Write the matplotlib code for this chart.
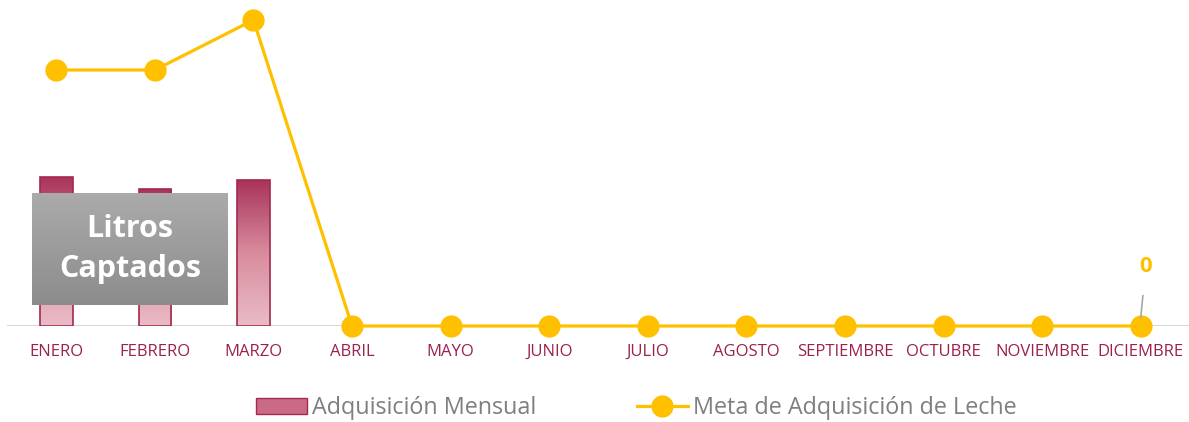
import numpy as np
import matplotlib.pyplot as plt
from matplotlib.patches import Rectangle
from matplotlib.colors import LinearSegmentedColormap
from matplotlib.lines import Line2D

meses = ['ENERO', 'FEBRERO', 'MARZO', 'ABRIL', 'MAYO', 'JUNIO', 'JULIO',
         'AGOSTO', 'SEPTIEMBRE', 'OCTUBRE', 'NOVIEMBRE', 'DICIEMBRE']
adquisicion = [149, 137, 146]
meta = [256, 256, 306, 0, 0, 0, 0, 0, 0, 0, 0, 0]

plt.rcParams['font.family'] = ['Open Sans', 'DejaVu Sans']

fig = plt.figure(figsize=(11.89, 4.22), dpi=100)
ax = fig.add_axes([7 / 1189, 1 - 326 / 422, 1183 / 1189, 326 / 422])
x = np.arange(len(meses))

# barras con degradado
cmap_bar = LinearSegmentedColormap.from_list('bar', ['#E9BCC6', '#D98C9E', '#A9345A'])
grad = np.linspace(0, 1, 256).reshape(-1, 1)
for i, v in enumerate(adquisicion):
    rect = Rectangle((i - 0.165, 0), 0.33, v, facecolor='none',
                     edgecolor='#A3294F', linewidth=1.2, zorder=3)
    ax.add_patch(rect)
    im = ax.imshow(grad, cmap=cmap_bar, aspect='auto', origin='lower',
                   extent=(i - 0.165, i + 0.165, 0, v), zorder=2)
    im.set_clip_path(rect)

# linea de meta
ax.plot(x, meta, color='#FFC000', linewidth=2.3, marker='o', markersize=15,
        zorder=5, clip_on=False)

# eje
ax.axhline(0, color='#D9D9D9', linewidth=1.5, zorder=1)
ax.set_xlim(-0.5, 11.5)
ax.set_ylim(0, 326)
ax.set_xticks(x)
ax.set_xticklabels(meses, color='#9B2150', fontsize=12)
ax.tick_params(axis='x', length=0, pad=13)
ax.set_yticks([])
for s in ax.spines.values():
    s.set_visible(False)

# etiqueta de dato
ax.annotate('0', xy=(11, 8), xytext=(11.05, 59), ha='center', va='center',
            fontsize=16, fontweight='bold', color='#FFC000',
            arrowprops=dict(arrowstyle='-', color='#A6A6A6', lw=1.2,
                            shrinkA=11, shrinkB=0), zorder=6)

# cuadro de titulo
cmap_box = LinearSegmentedColormap.from_list('box', ['#8C8C8C', '#ABABAB'])
bax = fig.add_axes([32 / 1189, 1 - 305 / 422, 196 / 1189, 112 / 422])
bax.imshow(grad, cmap=cmap_box, aspect='auto', origin='lower', extent=(0, 1, 0, 1))
bax.set_xlim(0, 1)
bax.set_ylim(0, 1)
bax.axis('off')
bax.text(0.5, 0.5, 'Litros\nCaptados', ha='center', va='center', color='white',
         fontsize=22, fontweight='bold', linespacing=1.45)

# leyenda
handles = [Rectangle((0, 0), 1, 1, facecolor='#CB6A85', edgecolor='#A3294F'),
           Line2D([], [], color='#FFC000', linewidth=2.3, marker='o', markersize=15)]
fig.legend(handles, ['Adquisición Mensual', 'Meta de Adquisición de Leche'],
           loc='center', bbox_to_anchor=(636 / 1189, 1 - 408 / 422), ncol=2,
           frameon=False, fontsize=16.8, labelcolor='#7F7F7F', columnspacing=4.3,
           handlelength=2.2, handletextpad=0.2)

fig.savefig('out.png', dpi=100)
